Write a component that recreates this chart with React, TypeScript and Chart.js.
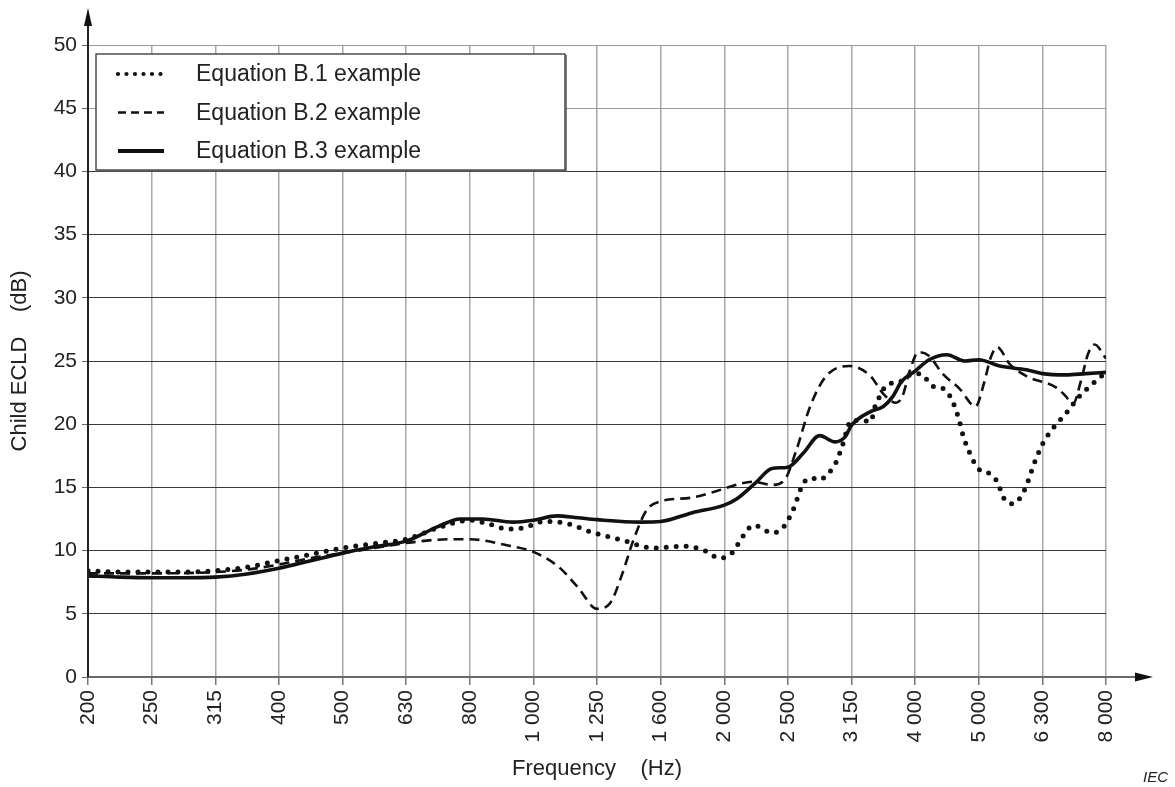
import React, { useEffect, useRef } from "react";
import { Chart, registerables } from "chart.js";

Chart.register(...registerables);

// Category labels (1/3-octave centre frequencies, Hz)
const freqLabels = [
  "200", "250", "315", "400", "500", "630", "800", "1 000", "1 250",
  "1 600", "2 000", "2 500", "3 150", "4 000", "5 000", "6 300", "8 000",
];

const seriesNames = ["Equation B.1 example", "Equation B.2 example", "Equation B.3 example"];

// Equation B.1 (dotted) — x in category-index units
const b1X = [0, 0.5, 1, 1.5, 2, 2.5, 3, 3.5, 4, 4.5, 5, 5.5, 6, 6.27, 6.6, 6.85, 7.17, 7.48, 7.95, 8.42,
  8.88, 9.35, 9.67, 9.93, 10.14, 10.25, 10.46, 10.76, 10.92, 11.08, 11.24, 11.37, 11.5, 11.63, 11.74, 11.85,
  12, 12.16, 12.3, 12.37, 12.47, 12.55, 12.76, 12.97, 13.07, 13.3, 13.43, 13.55, 13.67, 13.76, 13.86, 13.99,
  14.17, 14.29, 14.4, 14.54, 14.72, 14.88, 15.01, 15.17, 15.37, 15.58, 15.79, 15.95];
const b1Y = [8.4, 8.3, 8.3, 8.3, 8.4, 8.7, 9.2, 9.7, 10.2, 10.55, 10.9, 11.8, 12.4, 12.15, 11.7, 11.8, 12.3, 12.2, 11.4, 10.8,
  10.2, 10.35, 10.05, 9.4, 9.9, 10.8, 12.0, 11.4, 11.8, 13.2, 15.3, 15.75, 15.6, 16.1, 16.8, 18.2,
  20.3, 20.3, 20.2, 21.4, 22.45, 23.1, 23.35, 24.0, 24.0, 22.95, 22.85, 22.2, 20.7, 19.0, 17.7, 16.5,
  16.1, 15.45, 14.1, 13.7, 14.8, 17.0, 18.5, 19.7, 20.85, 22.2, 23.2, 23.9];

// Equation B.2 (dashed)
const b2X = [0, 1, 2, 2.5, 3, 3.5, 4, 4.5, 5, 5.7, 6, 6.6, 7, 7.4, 7.7, 8, 8.2, 8.4, 8.57, 8.78,
  9, 9.5, 10, 10.25, 10.45, 10.75, 10.95, 11.13, 11.35, 11.6, 11.97, 12.3, 12.5, 12.7, 12.8, 12.92, 13.05,
  13.22, 13.43, 13.7, 13.95, 14.08, 14.19, 14.29, 14.48, 14.75, 15.22, 15.37, 15.48, 15.61, 15.72, 15.82, 16];
const b2Y = [8.2, 8.2, 8.3, 8.5, 8.9, 9.4, 9.8, 10.2, 10.6, 10.9, 10.9, 10.4, 9.9, 8.7, 7.1, 5.4, 5.8, 8.2, 10.8, 13.2,
  13.9, 14.2, 14.9, 15.3, 15.45, 15.2, 15.6, 17.9, 21.4, 23.8, 24.6, 23.8, 22.4, 21.7, 22.2, 24.3, 25.7,
  25.4, 24.0, 22.8, 21.4, 23.2, 25.3, 26.1, 24.8, 23.8, 22.9, 22.2, 21.6, 23.5, 25.6, 26.3, 25.2];

// Equation B.3 (solid)
const b3X = [0, 0.5, 1, 1.5, 2, 2.5, 3, 3.5, 4, 4.5, 5, 5.5, 5.85, 6.2, 6.68, 7, 7.37, 7.7, 8, 8.68,
  9, 9.5, 10, 10.2, 10.5, 10.75, 11, 11.24, 11.5, 11.74, 11.9, 12, 12.3, 12.5, 12.65, 12.79, 13, 13.22,
  13.5, 13.78, 14, 14.33, 14.75, 15, 15.37, 15.68, 16];
const b3Y = [8.0, 7.9, 7.85, 7.85, 7.9, 8.15, 8.6, 9.2, 9.8, 10.3, 10.75, 11.9, 12.5, 12.5, 12.25, 12.4, 12.75, 12.6, 12.45, 12.25,
  12.3, 13.0, 13.6, 14.1, 15.4, 16.5, 16.6, 17.7, 19.1, 18.6, 19.0, 19.9, 21.0, 21.4, 22.2, 23.4, 24.2, 25.1,
  25.5, 25.0, 25.1, 24.6, 24.3, 24.0, 23.9, 24.0, 24.1];

const FONT = '"Liberation Sans", Arial, Helvetica, sans-serif';
const INK = "#111";

const toPoints = (xs: number[], ys: number[]) => xs.map((x, i) => ({ x, y: ys[i] }));

const lineStyles = [
  { borderWidth: 5, borderDash: [0, 10], borderCapStyle: "round" as const },
  { borderWidth: 2.6, borderDash: [10, 6], borderCapStyle: "butt" as const },
  { borderWidth: 3.6, borderDash: [] as number[], borderCapStyle: "round" as const },
];

const decorPlugin = {
  id: "decor",
  afterDraw(chart: any) {
    const ctx: CanvasRenderingContext2D = chart.ctx;
    const { left, right, top, bottom } = chart.chartArea;
    ctx.save();
    // x axis line with arrow
    ctx.strokeStyle = "#6a6a6a";
    ctx.lineWidth = 2;
    ctx.beginPath();
    ctx.moveTo(left, bottom);
    ctx.lineTo(right + 32, bottom);
    ctx.stroke();
    ctx.fillStyle = INK;
    ctx.beginPath();
    ctx.moveTo(right + 47, bottom);
    ctx.lineTo(right + 29, bottom - 4.5);
    ctx.lineTo(right + 29, bottom + 4.5);
    ctx.closePath();
    ctx.fill();
    // y axis line with arrow
    ctx.strokeStyle = "#222";
    ctx.lineWidth = 2;
    ctx.beginPath();
    ctx.moveTo(left, bottom);
    ctx.lineTo(left, top - 20);
    ctx.stroke();
    ctx.beginPath();
    ctx.moveTo(left, top - 37);
    ctx.lineTo(left - 4, top - 19);
    ctx.lineTo(left + 4, top - 19);
    ctx.closePath();
    ctx.fill();

    // legend box
    const bx = left + 8, by = top + 9, bw = 469, bh = 116;
    ctx.fillStyle = "#fff";
    ctx.fillRect(bx, by, bw, bh);
    ctx.strokeStyle = "#333";
    ctx.lineWidth = 1.3;
    ctx.strokeRect(bx, by, bw, bh);
    ctx.strokeStyle = "#555";
    ctx.lineWidth = 1.5;
    ctx.beginPath();
    ctx.moveTo(bx + 1, by + bh + 1);
    ctx.lineTo(bx + bw + 1, by + bh + 1);
    ctx.lineTo(bx + bw + 1, by + 1);
    ctx.stroke();

    chart.data.datasets.forEach((ds: any, i: number) => {
      const cy = by + 20 + i * 38.5;
      ctx.strokeStyle = INK;
      ctx.lineWidth = i === 0 ? 4.2 : i === 1 ? 2.6 : 4;
      ctx.lineCap = i === 0 ? "round" : "butt";
      ctx.setLineDash(i === 0 ? [0, 8.5] : i === 1 ? [8, 5] : []);
      ctx.beginPath();
      ctx.moveTo(bx + 22, cy);
      ctx.lineTo(bx + (i === 0 ? 66 : 68), cy);
      ctx.stroke();
      ctx.setLineDash([]);
      ctx.fillStyle = "#222";
      ctx.font = `23px ${FONT}`;
      ctx.textAlign = "left";
      ctx.textBaseline = "middle";
      ctx.fillText(ds.label, bx + 100, cy + 1);
    });

    // IEC mark
    ctx.fillStyle = "#222";
    ctx.font = `italic 15px ${FONT}`;
    ctx.textAlign = "right";
    ctx.textBaseline = "middle";
    ctx.fillText("IEC", chart.width - 7, chart.height - 9);
    ctx.restore();
  },
};

export default function App() {
  const ref = useRef<HTMLCanvasElement | null>(null);

  useEffect(() => {
    if (!ref.current) return;
    const seriesX = [b1X, b2X, b3X];
    const seriesY = [b1Y, b2Y, b3Y];
    const chart = new Chart(ref.current, {
      type: "line",
      data: {
        datasets: seriesNames.map((name, i) => ({
          label: name,
          data: toPoints(seriesX[i], seriesY[i]),
          borderColor: INK,
          backgroundColor: INK,
          fill: false,
          pointRadius: 0,
          cubicInterpolationMode: "monotone" as const,
          ...lineStyles[i],
        })),
      },
      options: {
        animation: false,
        responsive: false,
        devicePixelRatio: 1,
        layout: { padding: { left: 0, top: 45, right: 69, bottom: 0 } },
        plugins: {
          legend: { display: false },
          tooltip: { enabled: false },
        },
        scales: {
          x: {
            type: "linear",
            min: 0,
            max: freqLabels.length - 1,
            afterFit: (s: any) => { s.height = 110; },
            afterBuildTicks: (s: any) => {
              s.ticks = freqLabels.map((_, i) => ({ value: i }));
            },
            border: { display: false },
            grid: {
              color: (c: any) => (c.index === 0 ? "rgba(0,0,0,0)" : "#a9a9a9"),
              lineWidth: 1.5,
              tickLength: 8,
              tickColor: "#777",
            },
            ticks: {
              autoSkip: false,
              minRotation: 90,
              maxRotation: 90,
              padding: 5,
              color: "#222",
              font: { family: FONT, size: 21 },
              callback: (v: any) => freqLabels[Math.round(Number(v))],
            },
            title: {
              display: true,
              text: "Frequency    (Hz)",
              color: "#222",
              font: { family: FONT, size: 22 },
              padding: { top: 0, bottom: 5 },
            },
          },
          y: {
            type: "linear",
            min: 0,
            max: 50,
            afterFit: (s: any) => { s.width = 88; },
            border: { display: false },
            grid: {
              color: (c: any) => {
                const v = c.tick ? c.tick.value : 0;
                if (v === 0) return "rgba(0,0,0,0)";
                if (v >= 45) return "#9a9a9a";
                return "#3a3a3a";
              },
              lineWidth: 1,
              tickLength: 6,
              tickColor: "#666",
            },
            ticks: {
              stepSize: 5,
              padding: 5,
              color: "#222",
              font: { family: FONT, size: 21 },
            },
            title: {
              display: true,
              text: "Child ECLD    (dB)",
              color: "#222",
              font: { family: FONT, size: 22 },
              padding: { top: 7, bottom: 0 },
            },
          },
        },
      },
      plugins: [decorPlugin],
    });
    return () => chart.destroy();
  }, []);

  return (
    <div style={{ position: "absolute", left: 0, top: 0, width: 1175, height: 787, background: "#fff" }}>
      <canvas ref={ref} width={1175} height={787} style={{ display: "block" }} />
    </div>
  );
}
